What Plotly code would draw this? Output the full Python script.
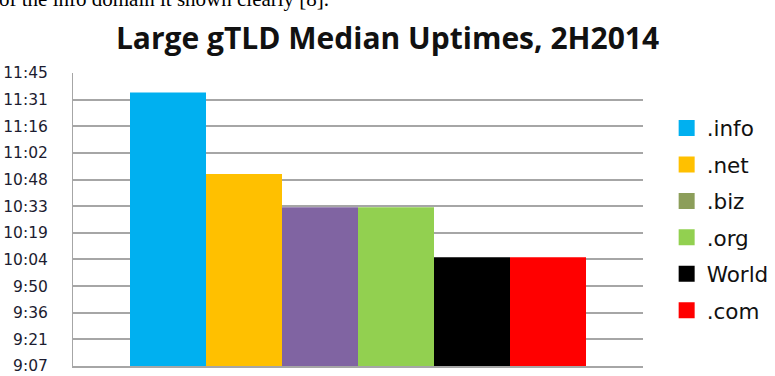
import plotly.graph_objects as go

# ---- data ----
series_names = [".info", ".net", ".biz", ".org", "World", ".com"]
median_uptime = ["11:35", "10:51", "10:33", "10:33", "10:06", "10:06"]
bar_colors = ["#00B0F0", "#FFC000", "#8064A2", "#92D050", "#000000", "#FF0000"]
legend_colors = ["#00B0F0", "#FFC000", "#8C9E5A", "#92D050", "#000000", "#FF0000"]
tick_labels = ["9:07", "9:21", "9:36", "9:50", "10:04", "10:19",
               "10:33", "10:48", "11:02", "11:16", "11:31", "11:45"]
tick_days = [0.38, 0.39, 0.40, 0.41, 0.42, 0.43, 0.44, 0.45, 0.46, 0.47, 0.48, 0.49]


def to_minutes(s):
    h, m = s.split(":")
    return int(h) * 60 + int(m)


values_min = [to_minutes(v) for v in median_uptime]
tick_vals = [d * 1440 for d in tick_days]

fig = go.Figure()
for name, v, c in zip(series_names, values_min, bar_colors):
    fig.add_trace(go.Bar(x=[""], y=[v], name=name, marker=dict(color=c, line=dict(width=0)),
                         showlegend=False))
for i, (name, c) in enumerate(zip(series_names, legend_colors)):
    fig.add_trace(go.Scatter(x=[None], y=[None], mode="markers", name=name,
                             legendgroup="g%d" % i,
                             marker=dict(symbol="square", size=16, color=c)))

fig.update_layout(
    width=775, height=376,
    margin=dict(l=73, r=132, t=73, b=10, autoexpand=False),
    paper_bgcolor="white", plot_bgcolor="white",
    barmode="group", bargap=0.2, bargroupgap=0,
    title=dict(text="<b>Large gTLD Median Uptimes, 2H2014</b>", x=0.5, xanchor="center",
               y=0.897, yanchor="middle", font=dict(family="Open Sans", size=30, color="#111111")),
    xaxis=dict(showticklabels=False, showgrid=False, showline=True, linecolor="#a6a6a6",
               linewidth=1.5, zeroline=False, automargin=False),
    yaxis=dict(range=[tick_vals[0], tick_vals[-1]], tickvals=tick_vals, ticktext=tick_labels,
               showgrid=True, gridcolor="#a6a6a6", gridwidth=1.5, zeroline=False,
               showline=True, linecolor="#a6a6a6", linewidth=1, automargin=False,
               ticklabelstandoff=21, ticklabeloverflow="allow",
               tickfont=dict(family="DejaVu Sans", size=15.5, color="#1c1c30")),
    legend=dict(x=1.0415, xanchor="left", y=0.5, yanchor="middle", tracegroupgap=5.5,
                font=dict(family="DejaVu Sans", size=21.5, color="#111111"),
                itemwidth=30, bgcolor="rgba(0,0,0,0)"),
    annotations=[dict(text="of the info domain it shown clearly [8].", xref="paper", yref="paper",
                      x=-0.133, y=1.205, xanchor="left", yanchor="bottom", showarrow=False,
                      font=dict(family="Liberation Serif", size=21, color="#000000"))],
)

fig.write_html("out.html")
